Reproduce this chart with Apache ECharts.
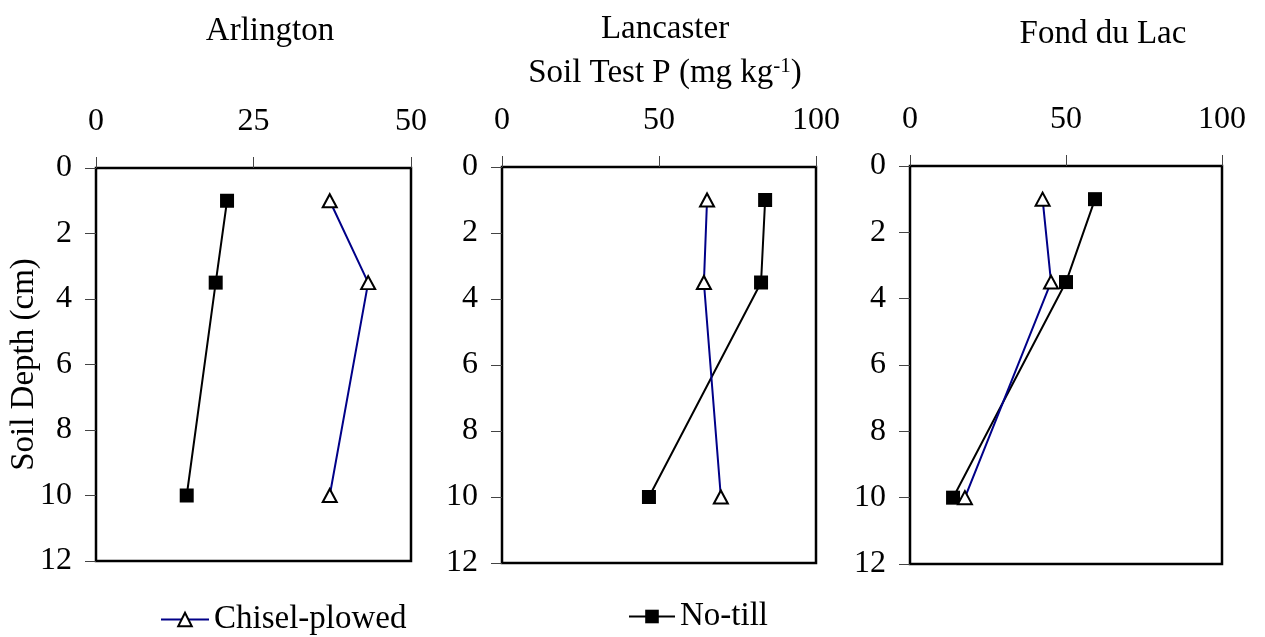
<!DOCTYPE html>
<html>
<head>
<meta charset="utf-8">
<script src="https://cdn.jsdelivr.net/npm/echarts@6/dist/echarts.min.js"></script>
<style>
html,body{margin:0;padding:0;background:#fff;}
#chart{width:1265px;height:637px;}
</style>
</head>
<body>
<div id="chart"></div>
<script>
// ---- data ----
const depths = [1, 3.5, 10];
const sites = ['Arlington', 'Lancaster', 'Fond du Lac'];
const chiselArlington = [37.1, 43.2, 37.1];
const noTillArlington = [20.8, 19.0, 14.4];
const chiselLancaster = [65.3, 64.3, 69.7];
const noTillLancaster = [83.8, 82.5, 46.8];
const chiselFond = [42.5, 45.2, 17.6];
const noTillFond = [59.3, 50.0, 13.8];
const xMax = [50, 100, 100];
const xInterval = [25, 50, 50];
const depthTicks = {min: 0, max: 12, interval: 2};
const seriesNames = ['Chisel-plowed', 'No-till'];

const chisel = [chiselArlington, chiselLancaster, chiselFond];
const notill = [noTillArlington, noTillLancaster, noTillFond];

const FONT = "'Liberation Serif','Times New Roman',serif";
const grids = [
  {left: 96, top: 168, width: 315, height: 393},
  {left: 502, top: 167, width: 314, height: 396},
  {left: 910, top: 166, width: 312, height: 398}
];

const pairs = v => v.map((x, i) => [x, depths[i]]);

const option = {
  animation: false,
  backgroundColor: '#fff',
  textStyle: {fontFamily: FONT, color: '#000'},
  title: [
    {text: sites[0], left: 265, top: 10, textAlign: 'center',
     textStyle: {fontFamily: FONT, fontSize: 33, fontWeight: 'normal', color: '#000'}},
    {text: sites[1] + '\nSoil Test P (mg kg{sup|-1})', left: 660, top: 2, textAlign: 'center',
     textStyle: {fontFamily: FONT, fontSize: 33, fontWeight: 'normal', color: '#000', lineHeight: 44,
       rich: {sup: {fontFamily: FONT, fontSize: 21, color: '#000', padding: [0, 0, 14, 0], lineHeight: 44}}}},
    {text: sites[2], left: 1098, top: 13, textAlign: 'center',
     textStyle: {fontFamily: FONT, fontSize: 33, fontWeight: 'normal', color: '#000'}}
  ],
  legend: [
    {data: [seriesNames[0]], left: 160, top: 603, padding: 0, itemWidth: 48, itemHeight: 17, itemGap: 0,
     textStyle: {fontFamily: FONT, fontSize: 33, color: '#000'}},
    {data: [seriesNames[1]], left: 628, top: 600, padding: 0, itemWidth: 46, itemHeight: 17, itemGap: 0,
     textStyle: {fontFamily: FONT, fontSize: 33, color: '#000'}}
  ],
  grid: grids.map(g => Object.assign({show: true, borderColor: '#000', borderWidth: 2.5, backgroundColor: 'transparent'}, g)),
  xAxis: grids.map((g, i) => ({
    type: 'value', gridIndex: i, position: 'top', min: 0, max: xMax[i], interval: xInterval[i],
    axisLine: {show: false},
    axisTick: {show: true, length: 11, lineStyle: {color: '#444', width: 1}},
    splitLine: {show: false},
    axisLabel: {fontFamily: FONT, fontSize: 32, color: '#000', margin: 30}
  })),
  yAxis: grids.map((g, i) => ({
    type: 'value', gridIndex: i, inverse: true, min: depthTicks.min, max: depthTicks.max, interval: depthTicks.interval,
    axisLine: {show: false},
    axisTick: {show: true, length: 11, lineStyle: {color: '#444', width: 1}},
    splitLine: {show: false},
    axisLabel: {fontFamily: FONT, fontSize: 32, color: '#000', margin: 24},
    name: i === 0 ? 'Soil Depth (cm)' : '',
    nameLocation: 'middle', nameGap: 55, nameRotate: 90, nameMoveOverlap: false,
    nameTextStyle: {fontFamily: FONT, fontSize: 33, color: '#000'}
  })),
  series: []
};

for (let i = 0; i < 3; i++) {
  option.series.push({
    name: seriesNames[0], type: 'line', xAxisIndex: i, yAxisIndex: i,
    data: pairs(chisel[i]), symbol: 'triangle', symbolSize: [14, 13],
    lineStyle: {color: '#000088', width: 2},
    itemStyle: {color: '#fff', borderColor: '#000', borderWidth: 2},
    z: 3
  });
  option.series.push({
    name: seriesNames[1], type: 'line', xAxisIndex: i, yAxisIndex: i,
    data: pairs(notill[i]), symbol: 'rect', symbolSize: 14,
    lineStyle: {color: '#000', width: 2},
    itemStyle: {color: '#000', borderColor: '#000', borderWidth: 0},
    z: 2
  });
}

const chart = echarts.init(document.getElementById('chart'), null, {renderer: 'canvas'});
chart.setOption(option);
</script>
</body>
</html>
